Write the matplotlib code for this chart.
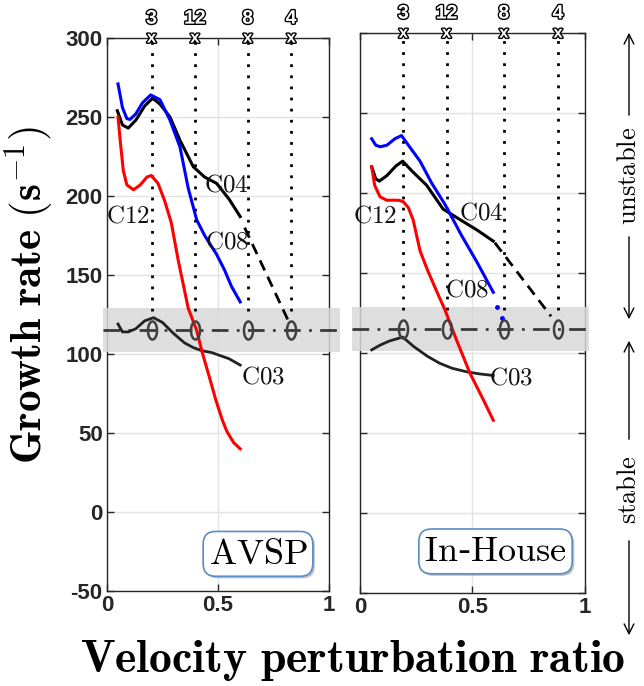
import numpy as np
import matplotlib
matplotlib.use('Agg')
import matplotlib.pyplot as plt
import matplotlib.patheffects as pe
from matplotlib.patches import Rectangle, FancyArrowPatch
from matplotlib.path import Path
import matplotlib.transforms as mtransforms

plt.rcParams['mathtext.fontset'] = 'cm'

# ---- data ----
# AVSP (left)
avsp_c12_x = [0.05, 0.06, 0.074, 0.09, 0.12, 0.15, 0.18, 0.2, 0.23, 0.26, 0.29, 0.32, 0.366, 0.404, 0.43, 0.46, 0.49, 0.52, 0.54, 0.57, 0.6]
avsp_c12_y = [250, 235, 216, 207, 204, 207, 212, 213, 208, 197, 183, 160, 129, 115, 100.5, 86, 71, 58, 51, 44, 40]
avsp_c08_x = [0.05, 0.07, 0.09, 0.104, 0.13, 0.16, 0.197, 0.239, 0.284, 0.329, 0.366, 0.404, 0.44, 0.494, 0.53, 0.56, 0.6]
avsp_c08_y = [271, 256, 249, 248.5, 252, 259, 264, 261, 248, 231, 205, 185, 175, 163, 153, 143, 133]
avsp_c04_x = [0.047, 0.07, 0.096, 0.13, 0.17, 0.206, 0.24, 0.284, 0.33, 0.389, 0.44, 0.494, 0.55, 0.6]
avsp_c04_y = [254, 245, 243, 248, 257, 262, 258, 250, 235, 218.5, 212, 208, 198, 187]
avsp_c04_ext_x = [0.62, 0.82]
avsp_c04_ext_y = [180, 120]
avsp_c03_x = [0.05, 0.07, 0.096, 0.13, 0.17, 0.21, 0.25, 0.3, 0.35, 0.39, 0.43, 0.47, 0.51, 0.55, 0.6]
avsp_c03_y = [119, 114, 114, 116, 121, 123, 120, 113, 107, 104, 102, 101, 99, 97, 93]
avsp_cross_x = [0.201, 0.396, 0.634, 0.829]

# In-House (right)
inh_c12_x = [0.052, 0.065, 0.089, 0.12, 0.148, 0.175, 0.193, 0.215, 0.237, 0.267, 0.3, 0.34, 0.378, 0.43, 0.489, 0.548, 0.593]
inh_c12_y = [216.5, 205, 197.7, 195.5, 195.6, 195.5, 194.6, 191, 183, 164, 152, 139, 127, 108, 87.5, 71, 58]
inh_c08_x = [0.052, 0.07, 0.09, 0.12, 0.155, 0.185, 0.21, 0.267, 0.32, 0.378, 0.45, 0.52, 0.593]
inh_c08_y = [234, 230, 229, 230, 234, 236, 231, 220, 206, 193, 174, 157, 138]
inh_c08_dots_x = [0.61, 0.63]
inh_c08_dots_y = [129, 122]
inh_c04_x = [0.052, 0.07, 0.086, 0.12, 0.16, 0.19, 0.23, 0.296, 0.37, 0.45, 0.52, 0.593]
inh_c04_y = [216.5, 209, 207.5, 211, 217, 220, 214, 205, 190, 183, 177, 170]
inh_c04_ext_x = [0.6, 0.85]
inh_c04_ext_y = [169, 123]
inh_c03_x = [0.052, 0.09, 0.13, 0.19, 0.24, 0.3, 0.355, 0.41, 0.474, 0.53, 0.593]
inh_c03_y = [102, 105, 107.5, 110, 104, 98, 93.6, 90.5, 88.3, 87, 86]
inh_cross_x = [0.193, 0.385, 0.64, 0.881]

cross_labels = ['3', '12', '8', '4']
threshold = 115
yticks = [-50, 0, 50, 100, 150, 200, 250, 300]
xticks = [0, 0.5, 1]
xticklabels = ['0', '0.5', '1']

# ---- figure ----
fig = plt.figure(figsize=(6.44, 6.86), dpi=100)
ax1 = fig.add_axes([0.166, 0.1385, 0.345, 0.806])
ax2 = fig.add_axes([0.559, 0.1356, 0.349, 0.816])

t = np.linspace(0, 2 * np.pi, 60)
ellipse = Path(np.c_[0.5 * np.cos(t), np.sin(t)], closed=True)
spine_col = '#262626'


def setup(ax, show_ylabels):
    ax.set_xlim(0, 1)
    ax.set_ylim(-50, 300)
    ax.set_xticks(xticks)
    ax.set_xticklabels(xticklabels)
    ax.set_yticks(yticks)
    if show_ylabels:
        ax.set_yticklabels([str(v) for v in yticks])
    else:
        ax.set_yticklabels([])
    ax.tick_params(direction='in', length=5, width=1, top=True, right=True,
                   colors=spine_col, pad=3)
    for lab in ax.get_xticklabels() + ax.get_yticklabels():
        lab.set_fontfamily('Liberation Sans')
        lab.set_fontweight('bold')
        lab.set_fontsize(16)
    ax.grid(True, color='#e3e3e3', lw=1)
    ax.set_axisbelow(True)
    for s in ax.spines.values():
        s.set_color(spine_col)
        s.set_linewidth(1)


def draw_panel(ax, c12, c08, c04, c04ext, c03, crosses, band_x0, band_x1):
    trans = mtransforms.blended_transform_factory(ax.transAxes, ax.transData)
    ax.add_patch(Rectangle((band_x0, 101), band_x1 - band_x0, 28, transform=trans,
                           facecolor='#d9d9d9', edgecolor='none', alpha=0.85,
                           clip_on=False, zorder=2.6))
    ax.plot([band_x0, band_x1], [threshold, threshold], transform=trans, color='#3a3a3a',
            lw=2, linestyle=(0, (6, 3, 1, 3)), clip_on=False, zorder=2.8)
    for x, lab in zip(crosses, cross_labels):
        ax.plot([x, x], [127, 300], color='black', lw=2, linestyle=(0, (1, 3)), zorder=2.7)
        ax.text(x, 300, 'x', ha='center', va='center', fontsize=12, fontweight='bold',
                family='Liberation Sans', color='white', zorder=5,
                path_effects=[pe.withStroke(linewidth=2, foreground='black')])
        ax.text(x, 312, lab, ha='center', va='center', fontsize=14, fontweight='bold',
                family='Liberation Sans', color='white', zorder=5,
                path_effects=[pe.withStroke(linewidth=2, foreground='black')])
    ax.plot(crosses, [threshold] * len(crosses), linestyle='none', marker=ellipse,
            markersize=13, mfc='none', mec='#404040', mew=1.8, zorder=4)
    ax.plot(c03[0], c03[1], color='#222222', lw=2, zorder=3)
    ax.plot(c04[0], c04[1], color='black', lw=2.2, zorder=3)
    ax.plot(c04ext[0], c04ext[1], color='black', lw=2, linestyle=(0, (4, 2.5)), zorder=3)
    ax.plot(c08[0], c08[1], color='blue', lw=2.2, zorder=3)
    ax.plot(c12[0], c12[1], color='red', lw=2.2, zorder=3)


setup(ax1, True)
setup(ax2, False)

draw_panel(ax1, (avsp_c12_x, avsp_c12_y), (avsp_c08_x, avsp_c08_y),
           (avsp_c04_x, avsp_c04_y), (avsp_c04_ext_x, avsp_c04_ext_y),
           (avsp_c03_x, avsp_c03_y), avsp_cross_x, -0.018, 1.05)
draw_panel(ax2, (inh_c12_x, inh_c12_y), (inh_c08_x, inh_c08_y),
           (inh_c04_x, inh_c04_y), (inh_c04_ext_x, inh_c04_ext_y),
           (inh_c03_x, inh_c03_y), inh_cross_x, -0.036, 1.02)
ax2.plot(inh_c08_dots_x, inh_c08_dots_y, linestyle='none', marker='o', markersize=2.5,
         color='blue', zorder=3)

lab_kw = dict(fontsize=18, ha='center', va='center', color='#111111', zorder=6)
ax1.text(0.096, 188, r'$\mathrm{C12}$', **lab_kw)
ax1.text(0.535, 207, r'$\mathrm{C04}$', **lab_kw)
ax1.text(0.539, 171, r'$\mathrm{C08}$', **lab_kw)
ax1.text(0.703, 86, r'$\mathrm{C03}$', **lab_kw)
ax2.text(0.067, 186, r'$\mathrm{C12}$', **lab_kw)
ax2.text(0.54, 188, r'$\mathrm{C04}$', **lab_kw)
ax2.text(0.478, 140, r'$\mathrm{C08}$', **lab_kw)
ax2.text(0.67, 85, r'$\mathrm{C03}$', **lab_kw)

box_kw = dict(boxstyle='round,pad=0.15,rounding_size=0.35', fc='white', ec='#5b8cc8', lw=1.2)
for ax, x, y, s in [(ax1, 0.68, -26.5, r'$\mathrm{AVSP}$'), (ax2, 0.603, -24, r'$\mathrm{In}$-$\mathrm{House}$')]:
    tx = ax.text(x, y, s, fontsize=26, ha='center', va='center', color='black',
                 bbox=box_kw, zorder=6)
    tx.get_bbox_patch().set_path_effects([pe.SimplePatchShadow(offset=(1.5, -1.5), alpha=0.35),
                                          pe.Normal()])

fig.text(0.547, 0.037, r'$\mathbf{Velocity\ perturbation\ ratio}$', fontsize=33,
         ha='center', va='center')
fig.text(0.047, 0.57, r'$\mathbf{Growth\ rate\ (s^{-1})}$', fontsize=31,
         ha='center', va='center', rotation=90)


# stable / unstable arrows at right
def fy(px):
    return 1 - px / 686.0


xa = 629 / 644.0
for txt, top, bottom, tcen in [('unstable', 30, 322, 176), ('stable', 338, 638, 490)]:
    half = 58 if txt == 'unstable' else 48
    fig.text(xa, fy(tcen), r'$\mathrm{%s}$' % txt, fontsize=19, rotation=90,
             ha='center', va='center')
    for a, b in [(tcen - half, top), (tcen + half, bottom)]:
        fig.add_artist(FancyArrowPatch((xa, fy(a)), (xa, fy(b)), transform=fig.transFigure,
                                       arrowstyle='->,head_length=0.5,head_width=0.25',
                                       color='black', lw=1, mutation_scale=14))

fig.savefig('out.png', dpi=100)
